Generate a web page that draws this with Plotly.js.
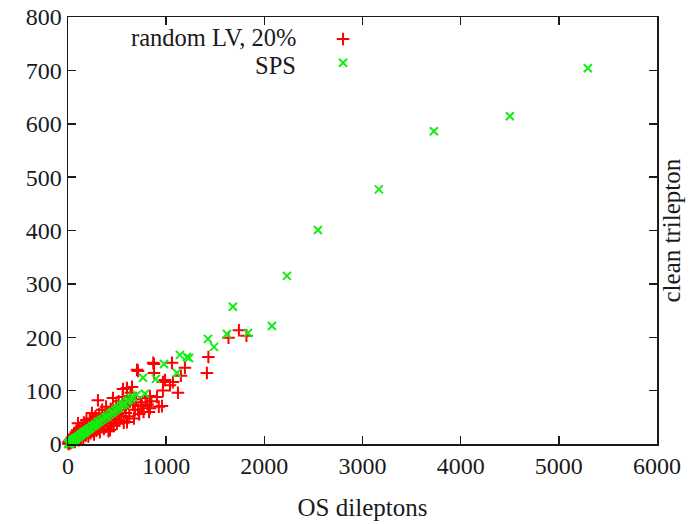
<!DOCTYPE html>
<html>
<head>
<meta charset="utf-8">
<script src="https://cdn.plot.ly/plotly-3.0.1.min.js"></script>
<style>html,body{margin:0;padding:0;background:#fff;}#chart{width:689px;height:524px;}</style>
</head>
<body>
<div id="chart"></div>
<script>
// Series labels
const seriesNames = ["random LV, 20%", "SPS"];
const xTitle = "OS dileptons";
const yTitle = "clean trilepton";
const xTicks = [0, 1000, 2000, 3000, 4000, 5000, 6000];
const yTicks = [0, 100, 200, 300, 400, 500, 600, 700, 800];

// random LV, 20% (red +)
const lvX = [3,6,9,12,15,18,22,26,30,34,38,42,46,50,55,60,64,68,72,76,80,85,90,95,98,
  102,105,110,115,120,126,132,138,145,150,156,162,168,175,182,188,195,200,208,215,222,230,238,244,250,258,265,272,280,288,295,
  305,310,318,325,332,340,348,356,365,372,380,388,395,405,412,420,428,436,445,452,458,466,474,482,490,498,
  508,516,525,534,545,556,560,568,578,588,601,601,612,624,636,641,652,662,672,682,694,703,713,713,725,740,
  753,770,790,810,825,835,835,850,868,876,876,906,925,957,967,967,988,1039,1059,1069,1120,1150,1191,
  1415,1430,1635,1741,1818];
const lvY = [1,3,0,4,2,6,3,8,2,10,5,12,4,9,15,6,18,11,4,14,22,8,17,26,12,
  39,20,7,30,15,24,10,34,19,28,12,40,22,31,16,45,26,36,14,29,48,20,38,58,27,44,18,35,52,25,42,
  82,30,56,22,47,36,64,39,28,52,44,70,33,58,24,48,26,66,40,55,86,34,62,46,72,38,
  56,80,44,64,52,88,103,40,70,58,41,105,76,52,90,96,107,73,48,64,84,139,137,64,56,78,
  71,60,86,74,60,67,90,80,152,133,150,88,70,71,100,116,120,110,152,116,96,128,143,
  133,163,199,213,203];

// SPS (green x)
const spsX = [2,5,8,10,12,15,18,20,22,25,28,30,35,38,40,45,50,55,60,65,70,75,80,90,100,110,120,130,140,150,160,170,180,190,200,
  215,230,245,260,275,290,305,320,340,360,380,400,420,440,460,480,500,520,540,560,580,600,620,640,662,700,
  764,784,896,978,1110,1140,1212,1232,1426,1487,1619,1680,1833,2077,2230,2546,3167,3727,4501,5295];
const spsY = [0,1,1,2,0,2,3,1,3,2,4,3,5,4,6,5,7,6,8,7,10,9,11,12,13,14,16,17,19,20,22,21,24,25,27,
  28,30,33,34,36,38,41,42,45,47,50,52,55,58,60,63,66,68,72,74,76,80,82,86,88,92,
  124,94,122,150,133,167,163,161,197,182,206,257,208,221,315,401,477,586,614,704];

const red = "#ff0000", green = "#11ee11";
const fontFam = "Liberation Serif, Times New Roman, serif";
const ink = "#1a1a1a";

const traces = [
  {x: lvX, y: lvY, type: "scatter", mode: "markers", name: seriesNames[0], showlegend: false, cliponaxis: false,
   marker: {symbol: "cross-thin-open", size: 9, color: red, line: {color: red, width: 2}}},
  {x: spsX, y: spsY, type: "scatter", mode: "markers", name: seriesNames[1], showlegend: false, cliponaxis: false,
   marker: {symbol: "x-thin-open", size: 8, color: green, line: {color: green, width: 2}}},
  // legend keys (no data)
  {x: [null], y: [null], type: "scatter", mode: "markers", name: "", showlegend: true,
   marker: {symbol: "cross-thin-open", size: 9, color: red, line: {color: red, width: 2}}},
  {x: [null], y: [null], type: "scatter", mode: "markers", name: "", showlegend: true,
   marker: {symbol: "x-thin-open", size: 8, color: green, line: {color: green, width: 2}}}
];

const axisCommon = {
  showline: true, linecolor: ink, linewidth: 1.5, mirror: "ticks",
  ticks: "inside", ticklen: 8, tickwidth: 1.5, tickcolor: ink,
  showgrid: false, zeroline: false,
  tickfont: {family: fontFam, size: 24, color: ink}
};

const layout = {
  width: 689, height: 524,
  margin: {l: 68, r: 32, t: 17, b: 80},
  paper_bgcolor: "#fff", plot_bgcolor: "#fff",
  font: {family: fontFam, color: ink},
  xaxis: Object.assign({}, axisCommon, {range: [0, 6000], tickvals: xTicks, ticktext: xTicks.map(String),
    title: {text: xTitle, font: {family: fontFam, size: 25, color: ink}, standoff: 20}}),
  yaxis: Object.assign({}, axisCommon, {range: [0, 800], tickvals: yTicks, ticktext: yTicks.map(String)}),
  showlegend: true,
  legend: {x: 0.433, y: 0.988, xanchor: "left", yanchor: "top", bgcolor: "rgba(0,0,0,0)",
    font: {family: fontFam, size: 16, color: ink}, tracegroupgap: 0, itemwidth: 30},
  annotations: [
    {text: seriesNames[0], xref: "paper", yref: "paper", x: 0.388, y: 0.9525, xanchor: "right", yanchor: "middle",
     borderpad: 0, showarrow: false, font: {family: fontFam, size: 24.5, color: ink}},
    {text: seriesNames[1], xref: "paper", yref: "paper", x: 0.388, y: 0.886, xanchor: "right", yanchor: "middle",
     borderpad: 0, showarrow: false, font: {family: fontFam, size: 24.5, color: ink}},
    {text: yTitle, xref: "paper", yref: "paper", x: 1, y: 0.5, xshift: 14, xanchor: "center", yanchor: "middle",
     textangle: -90, showarrow: false, font: {family: fontFam, size: 25, color: ink}}
  ]
};

Plotly.newPlot("chart", traces, layout, {staticPlot: true, displayModeBar: false});
</script>
</body>
</html>
